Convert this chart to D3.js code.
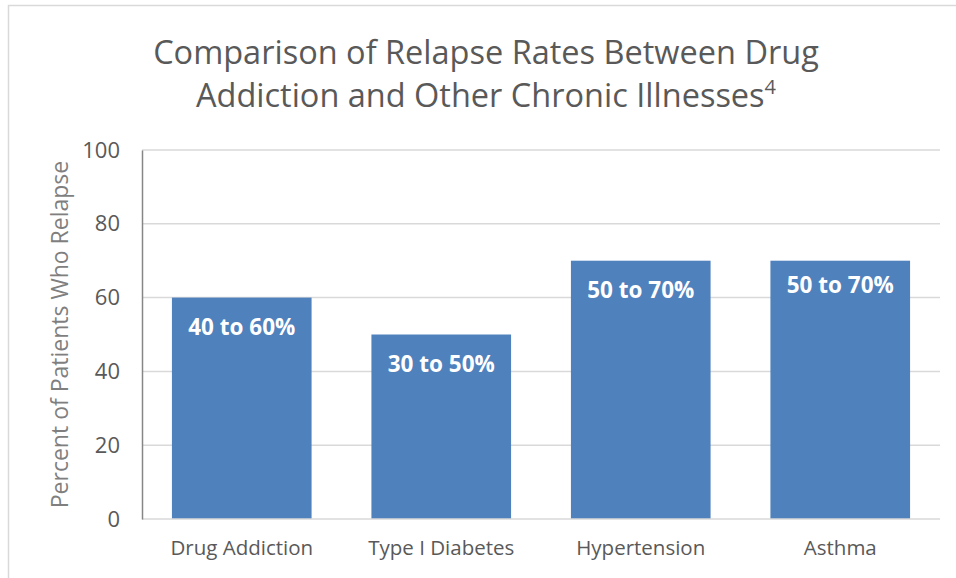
<!DOCTYPE html>
<html><head><meta charset="utf-8">
<script src="https://cdn.jsdelivr.net/npm/d3@7"></script>
<style>body{margin:0;background:#fff}</style>
</head><body>
<svg id="c" width="956" height="578"></svg>
<script>
const categories = ["Drug Addiction", "Type I Diabetes", "Hypertension", "Asthma"];
const values = [60, 50, 70, 70];
const barLabels = ["40 to 60%", "30 to 50%", "50 to 70%", "50 to 70%"];
const yTicks = [0, 20, 40, 60, 80, 100];
const titleLines = ["Comparison of Relapse Rates Between Drug", "Addiction and Other Chronic Illnesses"];
const yTitle = "Percent of Patients Who Relapse";

const W = 956, H = 578;
const m = {left: 142, right: 16, top: 150, bottom: 59};
const svg = d3.select("#c");
const font = "Open Sans, sans-serif";

svg.append("rect").attr("x", 8.5).attr("y", 5.5).attr("width", 960).attr("height", 600)
  .attr("fill", "none").attr("stroke", "#d9d9d9").attr("stroke-width", 1.5);

const x = d3.scaleBand().domain(categories).range([m.left, W - m.right]).paddingInner(0.3).paddingOuter(0.15);
const y = d3.scaleLinear().domain([0, 100]).range([H - m.bottom, m.top]);

// gridlines
svg.append("g").selectAll("line").data(yTicks.filter(d => d > 0)).join("line")
  .attr("x1", m.left).attr("x2", W - m.right)
  .attr("y1", d => y(d)).attr("y2", d => y(d))
  .attr("stroke", "#d9d9d9").attr("stroke-width", 1.5);

// bars
svg.append("g").selectAll("rect").data(values).join("rect")
  .attr("x", (d, i) => x(categories[i])).attr("width", x.bandwidth())
  .attr("y", d => y(d)).attr("height", d => y(0) - y(d))
  .attr("fill", "#4f81bd");

// bar labels
svg.append("g").selectAll("text").data(values).join("text")
  .attr("x", (d, i) => x(categories[i]) + x.bandwidth() / 2)
  .attr("y", (d, i) => y(d) + (i === 3 ? 32 : 37))
  .attr("text-anchor", "middle").attr("font-family", font).attr("font-weight", 700)
  .attr("font-size", 22.5).attr("fill", "#fff")
  .text((d, i) => barLabels[i]);

// baseline
svg.append("line").attr("x1", m.left).attr("x2", W - m.right)
  .attr("y1", y(0)).attr("y2", y(0)).attr("stroke", "#d9d9d9").attr("stroke-width", 1.5);

// y axis
const yAxis = svg.append("g").attr("transform", `translate(${m.left},0)`)
  .call(d3.axisLeft(y).tickValues(yTicks).tickSize(0).tickPadding(22));
yAxis.select(".domain").attr("stroke", "#868686").attr("stroke-width", 1.5);
yAxis.selectAll("text").attr("font-family", font).attr("font-size", 22).attr("fill", "#595959");

// x axis
const xAxis = svg.append("g").attr("transform", `translate(0,${y(0)})`)
  .call(d3.axisBottom(x).tickSize(0).tickPadding(21));
xAxis.select(".domain").remove();
xAxis.selectAll("text").attr("font-family", font).attr("font-size", 20.5).attr("fill", "#595959");

// y title
svg.append("text").attr("transform", `translate(68,${(y(0) + y(100)) / 2}) rotate(-90)`)
  .attr("text-anchor", "middle").attr("font-family", font).attr("font-size", 23)
  .attr("fill", "#7f7f7f").text(yTitle);

// title
const t = svg.append("text").attr("text-anchor", "middle").attr("font-family", font)
  .attr("font-size", 32.5).attr("fill", "#595959");
t.append("tspan").attr("x", 486).attr("y", 64).text(titleLines[0]);
const l2 = t.append("tspan").attr("x", 486).attr("y", 107).text(titleLines[1]);
l2.append("tspan").attr("font-size", 20).attr("dy", -13).text("4");
</script>
</body></html>
